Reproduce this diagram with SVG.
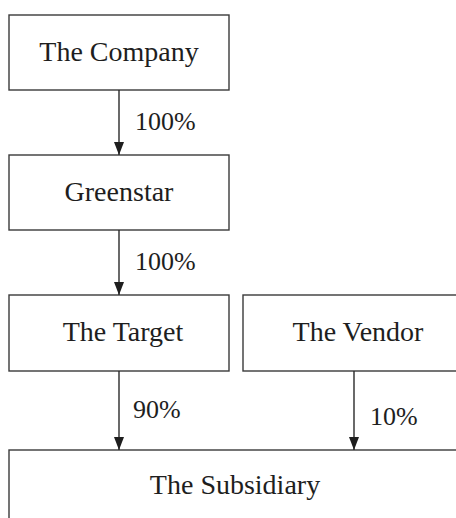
<svg xmlns="http://www.w3.org/2000/svg" width="456" height="518" viewBox="0 0 456 518">
  <style>
    .box { fill: #ffffff; stroke: #3a3a3a; stroke-width: 1.4; }
    .name { font-family: "Liberation Serif", "Times New Roman", serif; font-size: 28px; fill: #1e1e1e; text-anchor: middle; }
    .pct { font-family: "Liberation Serif", "Times New Roman", serif; font-size: 26px; fill: #1e1e1e; }
    .link { stroke: #2a2a2a; stroke-width: 1.4; fill: none; marker-end: url(#head); }
  </style>
  <defs>
    <marker id="head" viewBox="0 0 13 10" refX="13" refY="5" markerWidth="13" markerHeight="10" markerUnits="userSpaceOnUse" orient="auto">
      <path d="M0,0 L13,5 L0,10 Z" fill="#1e1e1e"/>
    </marker>
  </defs>

  <rect width="456" height="518" fill="#ffffff"/>

  <g id="company">
    <rect class="box" x="9" y="15" width="220" height="75"/>
    <text class="name" x="119" y="61">The Company</text>
  </g>

  <g id="greenstar">
    <rect class="box" x="9" y="155" width="220" height="75"/>
    <text class="name" x="119" y="201">Greenstar</text>
  </g>

  <g id="target">
    <rect class="box" x="9" y="295" width="220" height="76"/>
    <text class="name" x="123" y="341">The Target</text>
  </g>

  <g id="vendor">
    <rect class="box" x="243" y="295" width="230" height="76"/>
    <text class="name" x="358" y="341">The Vendor</text>
  </g>

  <g id="subsidiary">
    <rect class="box" x="9" y="450" width="452" height="90"/>
    <text class="name" x="235" y="494">The Subsidiary</text>
  </g>

  <g id="connectors">
    <line class="link" x1="119" y1="90" x2="119" y2="155"/>
    <text class="pct" x="135" y="130">100%</text>
    <line class="link" x1="119" y1="230" x2="119" y2="295"/>
    <text class="pct" x="135" y="270">100%</text>
    <line class="link" x1="119" y1="371" x2="119" y2="450"/>
    <text class="pct" x="133" y="418">90%</text>
    <line class="link" x1="354" y1="371" x2="354" y2="450"/>
    <text class="pct" x="370" y="425">10%</text>
  </g>
</svg>
